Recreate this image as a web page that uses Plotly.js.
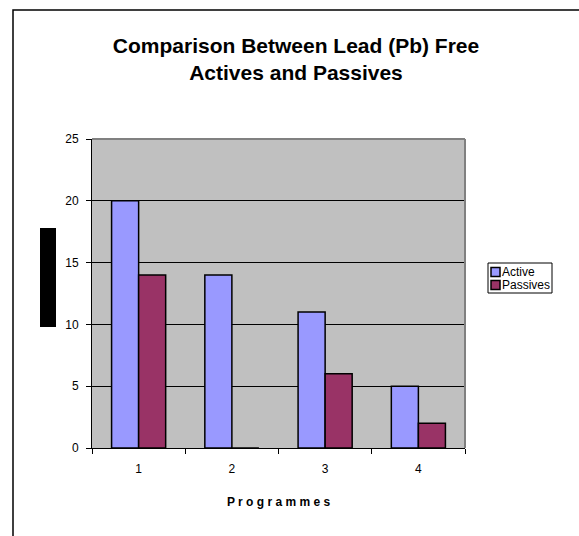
<!DOCTYPE html>
<html>
<head>
<meta charset="utf-8">
<script src="https://cdn.plot.ly/plotly-3.0.1.min.js"></script>
<style>html,body{margin:0;padding:0;background:#fff;}#chart{width:579px;height:536px;}</style>
</head>
<body>
<div id="chart"></div>
<script>
var categories = ['1', '2', '3', '4'];
var activeValues = [20, 14, 11, 5];
var passiveValues = [14, 0, 6, 2];
var seriesNames = ['Active', 'Passives'];
var seriesColors = ['#9999FF', '#993366'];
var yTicks = [0, 5, 10, 15, 20, 25];

var W = 579, H = 536;
var L = 92, R = 465, T = 139, B = 448;
function px(x) { return (x - L) / (R - L); }
function py(y) { return (B - y) / (B - T); }

var font = 'Liberation Sans, Arial, sans-serif';

var traces = [
  {type: 'bar', x: categories, y: activeValues, name: seriesNames[0],
   marker: {color: seriesColors[0], line: {color: '#000000', width: 1.5}}},
  {type: 'bar', x: categories, y: passiveValues, name: seriesNames[1],
   marker: {color: seriesColors[1], line: {color: '#000000', width: 1.5}}}
];

var shapes = [
  {type: 'line', xref: 'paper', yref: 'paper', x0: 0, x1: 1, y0: 1, y1: 1,
   line: {color: '#808080', width: 2}, layer: 'above'},
  {type: 'line', xref: 'paper', yref: 'paper', x0: 1, x1: 1, y0: 0, y1: 1,
   line: {color: '#808080', width: 2}, layer: 'above'},
  {type: 'rect', xref: 'paper', yref: 'paper', x0: px(40), x1: px(56), y0: py(327), y1: py(228),
   fillcolor: '#000000', line: {width: 0}},
  {type: 'rect', xref: 'paper', yref: 'paper', x0: px(13), x1: px(600), y0: py(620), y1: py(10),
   fillcolor: 'rgba(0,0,0,0)', line: {color: '#000000', width: 1.5}},
  // legend box
  {type: 'rect', xref: 'paper', yref: 'paper', x0: px(488), x1: px(552), y0: py(293), y1: py(263),
   fillcolor: '#ffffff', line: {color: '#000000', width: 1}}
];
var annotations = [];
var rowY = [272, 285];
for (var i = 0; i < seriesNames.length; i++) {
  shapes.push({type: 'rect', xref: 'paper', yref: 'paper',
    x0: px(491), x1: px(500), y0: py(rowY[i] + 4.5), y1: py(rowY[i] - 4.5),
    fillcolor: seriesColors[i], line: {color: '#000000', width: 1.5}});
  annotations.push({xref: 'paper', yref: 'paper', x: px(500), y: py(rowY[i]),
    xanchor: 'left', yanchor: 'middle', showarrow: false, text: seriesNames[i],
    font: {family: font, size: 12, color: '#000000'}});
}

var layout = {
  width: W, height: H,
  margin: {l: L, r: W - R, t: T, b: H - B, pad: 0, autoexpand: false},
  paper_bgcolor: '#ffffff',
  plot_bgcolor: '#C0C0C0',
  font: {family: font, size: 12, color: '#000000'},
  title: {
    text: 'Comparison Between Lead (Pb) Free<br>Actives and Passives',
    font: {family: font, size: 21, color: '#000000', weight: 'bold'},
    x: 296 / W, xanchor: 'center', xref: 'container',
    y: 1 - 53 / H, yanchor: 'middle', yref: 'container'
  },
  barmode: 'group',
  bargap: 0.42,
  bargroupgap: 0,
  showlegend: false,
  xaxis: {
    type: 'category',
    tickson: 'boundaries',
    ticks: 'outside', ticklen: 5, tickcolor: '#000000', tickwidth: 1,
    showline: true, linecolor: '#000000', linewidth: 1,
    showgrid: false, zeroline: false,
    tickfont: {family: font, size: 12, color: '#000000'},
    ticklabelstandoff: 10,
    automargin: false,
    title: {text: 'P r o g r a m m e s', font: {family: font, size: 12, color: '#000000', weight: 'bold'}, standoff: 22}
  },
  yaxis: {
    range: [0, 25],
    tickvals: yTicks,
    ticks: 'outside', ticklen: 5, tickcolor: '#000000', tickwidth: 1,
    showline: true, linecolor: '#000000', linewidth: 1,
    showgrid: true, gridcolor: '#000000', gridwidth: 1,
    zeroline: false,
    automargin: false,
    tickfont: {family: font, size: 12, color: '#000000'},
    ticklabelstandoff: 5
  },
  shapes: shapes,
  annotations: annotations
};

Plotly.newPlot('chart', traces, layout, {displayModeBar: false, staticPlot: true});
</script>
</body>
</html>
